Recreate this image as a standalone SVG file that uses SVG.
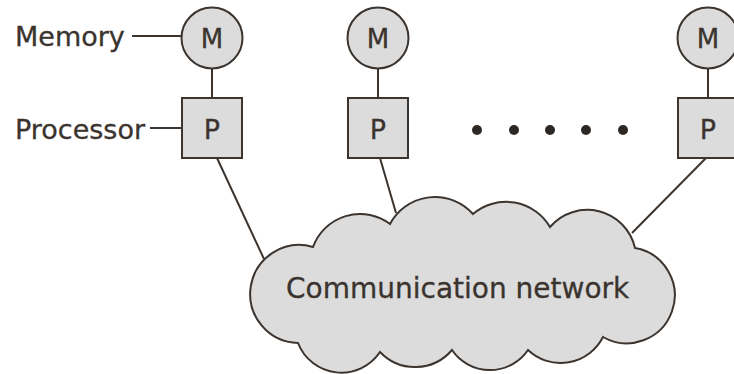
<svg xmlns="http://www.w3.org/2000/svg" width="734" height="374" viewBox="0 0 734 374">
  <style>
    .shape { fill: #dcdcdc; stroke: #3b342f; stroke-width: 2; }
    .wire { fill: none; stroke: #3b342f; stroke-width: 2; }
    .lbl { font-family: "DejaVu Sans", Verdana, sans-serif; fill: #3a332e; stroke: #3a332e; stroke-width: 0.3; }
    .big { font-size: 27px; }
    .m { font-size: 26px; text-anchor: middle; }
    .p { font-size: 27px; text-anchor: middle; }
    .dot { fill: #2e2824; }
  </style>
  <rect width="734" height="374" fill="#ffffff"/>

  <!-- connectors -->
  <g id="connectors" class="wire">
    <line x1="132" y1="36" x2="181" y2="36"/>
    <line x1="150" y1="128" x2="182" y2="128"/>
    <line x1="212" y1="69" x2="212" y2="98"/>
    <line x1="378" y1="69" x2="378" y2="98"/>
    <line x1="708" y1="69" x2="708" y2="98"/>
    <line x1="217" y1="158" x2="264" y2="259"/>
    <line x1="380" y1="158" x2="396" y2="213"/>
    <line x1="706" y1="158" x2="632" y2="233"/>
  </g>

  <!-- labels -->
  <g id="labels" class="lbl big">
    <text x="15" y="46">Memory</text>
    <text x="15" y="139">Processor</text>
  </g>

  <!-- memory / processor pairs -->
  <g id="mem1"><circle class="shape" cx="212" cy="38" r="30.5"/><text class="lbl m" x="212" y="47.5">M</text></g>
  <g id="proc1"><rect class="shape" x="182" y="98" width="60" height="60"/><text class="lbl p" x="212" y="139">P</text></g>

  <g id="mem2"><circle class="shape" cx="378" cy="38" r="30.5"/><text class="lbl m" x="378" y="47.5">M</text></g>
  <g id="proc2"><rect class="shape" x="348" y="98" width="60" height="60"/><text class="lbl p" x="378" y="139">P</text></g>

  <g id="mem3"><circle class="shape" cx="708" cy="38" r="30.5"/><text class="lbl m" x="708" y="47.5">M</text></g>
  <g id="proc3"><rect class="shape" x="678" y="98" width="60" height="60"/><text class="lbl p" x="708" y="139">P</text></g>

  <!-- ellipsis between processors -->
  <g id="ellipsis" class="dot">
    <circle cx="477" cy="130" r="5"/>
    <circle cx="514" cy="130" r="5"/>
    <circle cx="550" cy="130" r="5"/>
    <circle cx="586" cy="130" r="5"/>
    <circle cx="623" cy="130" r="5"/>
  </g>

  <!-- network cloud -->
  <g id="network">
    <path class="shape" d="M313,247
      A50,50 0 0 1 390,224
      A51,51 0 0 1 473,214
      A51,51 0 0 1 550,227
      A49,49 0 0 1 635,248
      A48,48 0 1 1 603,337
      A47.5,47.5 0 0 1 528,350
      A46,46 0 0 1 452,350
      A48.5,48.5 0 0 1 380,352
      A46.5,46.5 0 0 1 298,343
      A49,49 0 1 1 313,247 Z"/>
    <text class="lbl" x="286" y="298" font-size="28">Communication network</text>
  </g>
</svg>
